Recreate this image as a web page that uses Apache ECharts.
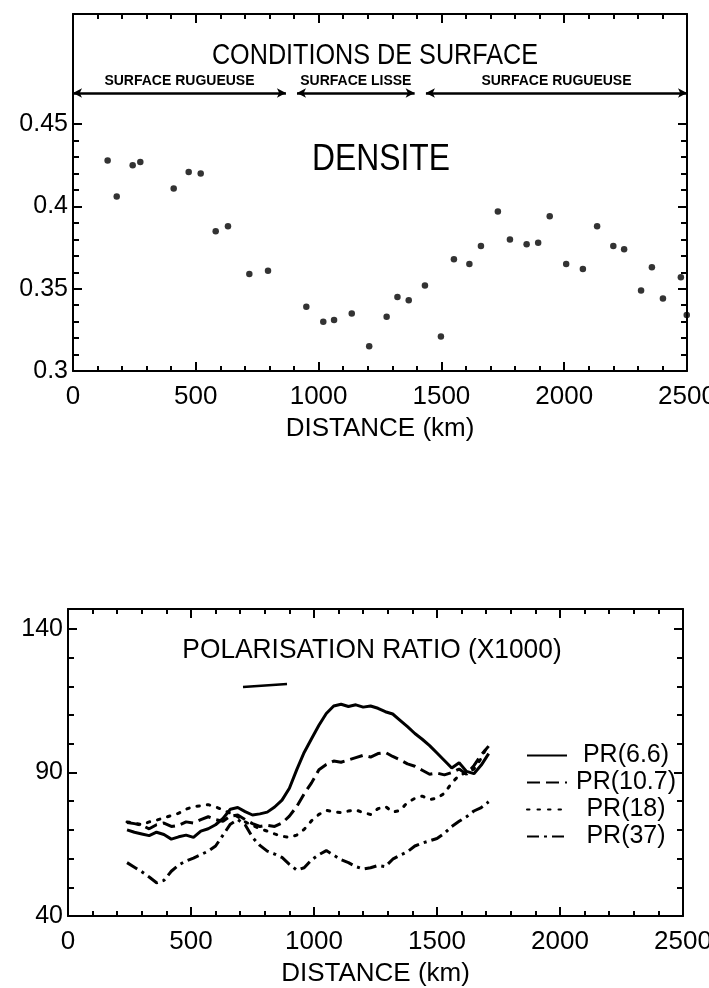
<!DOCTYPE html>
<html>
<head>
<meta charset="utf-8">
<script src="https://cdn.jsdelivr.net/npm/echarts@6/dist/echarts.min.js"></script>
<style>
  html, body { margin: 0; padding: 0; background: #fff; }
  #chart { width: 709px; height: 988px; }
</style>
</head>
<body>
<div id="chart"></div>
<script>
// ---- Density along the track (upper panel) ----
const densityKm = [141, 178, 243, 274, 410, 471, 520, 581, 631, 718, 794, 950, 1019, 1063, 1135,
  1206, 1277, 1321, 1367, 1433, 1498, 1551, 1614, 1661, 1730, 1779, 1847, 1894, 1941, 2008,
  2076, 2134, 2200, 2244, 2313, 2357, 2402, 2475, 2499];
const densityValue = [0.428, 0.406, 0.425, 0.427, 0.411, 0.421, 0.420, 0.385, 0.388, 0.359, 0.361, 0.339, 0.330, 0.331, 0.335,
  0.315, 0.333, 0.345, 0.343, 0.352, 0.321, 0.368, 0.365, 0.376, 0.397, 0.380, 0.377, 0.378, 0.394, 0.365,
  0.362, 0.388, 0.376, 0.374, 0.349, 0.363, 0.344, 0.357, 0.334];

// Surface condition zones (km)
const surfaceZones = [
  { label: 'SURFACE RUGUEUSE', from: 0, to: 867 },
  { label: 'SURFACE LISSE', from: 912, to: 1391 },
  { label: 'SURFACE RUGUEUSE', from: 1437, to: 2500 }
];

// ---- Polarisation ratios (x1000), lower panel ----
const distanceKm = [240, 270, 300, 330, 360, 390, 420, 450, 480, 510, 540, 570, 600, 630, 660, 690, 720, 750,
  780, 810, 840, 870, 900, 930, 960, 990, 1020, 1050, 1080, 1110, 1140, 1170, 1200, 1230, 1260, 1290,
  1320, 1350, 1380, 1410, 1440, 1470, 1500, 1530, 1560, 1590, 1620, 1650, 1680, 1710];
const pr66 = [70.0, 69.2, 68.6, 68.0, 69.2, 68.4, 66.8, 67.6, 68.2, 67.4, 69.6, 70.4, 71.8, 74.0, 77.2, 77.8, 76.4, 75.2,
  75.6, 76.2, 78.0, 80.4, 84.5, 91.0, 97.0, 101.8, 106.5, 110.6, 113.2, 113.8, 113.0, 113.6, 112.8, 113.2, 112.4, 111.2,
  110.4, 108.2, 106.0, 103.6, 101.6, 99.4, 96.8, 94.2, 91.6, 93.4, 90.4, 89.6, 92.6, 96.6];
const pr107 = [72.6, 72.2, 71.6, 70.4, 71.8, 72.4, 71.2, 71.6, 72.8, 72.4, 73.6, 74.6, 73.6, 73.0, 74.8, 75.2, 73.6, 72.2,
  71.2, 71.6, 71.2, 72.4, 74.8, 78.2, 82.6, 86.4, 91.0, 92.8, 94.0, 93.6, 94.4, 95.2, 96.0, 95.4, 96.6, 97.0,
  95.6, 94.4, 93.0, 92.2, 90.8, 89.4, 89.8, 89.2, 90.0, 91.2, 89.4, 92.4, 96.2, 99.2];
const pr18 = [72.8, 72.4, 71.8, 72.8, 73.4, 74.2, 75.0, 75.8, 77.2, 78.2, 78.4, 78.8, 78.0, 77.0, 75.8, 74.6, 72.8, 71.6,
  70.4, 69.6, 68.6, 67.8, 67.4, 68.2, 70.2, 73.2, 75.4, 76.8, 76.4, 76.0, 76.6, 77.0, 76.0, 75.4, 77.4, 78.2,
  76.2, 76.8, 79.6, 81.0, 81.8, 80.6, 81.0, 82.8, 86.4, 89.0, 90.0, 91.2, 95.0, 100.2];
const pr37 = [58.6, 57.0, 55.4, 53.6, 51.6, 52.4, 55.6, 57.8, 59.2, 60.2, 61.4, 62.6, 64.4, 68.2, 72.0, 73.6, 71.8, 67.4,
  64.6, 62.6, 61.6, 60.4, 58.0, 56.0, 56.8, 59.6, 61.4, 62.8, 61.2, 59.6, 58.6, 57.2, 56.4, 56.8, 57.6, 57.2,
  59.8, 61.2, 62.4, 64.4, 65.4, 66.2, 67.0, 68.8, 71.2, 73.0, 74.6, 76.6, 77.8, 79.8];

// Axis tick values
const densityMajorTicks = [0.3, 0.35, 0.4, 0.45];
const densityMinorTicks = [0.31, 0.32, 0.33, 0.34, 0.36, 0.37, 0.38, 0.39, 0.41, 0.42, 0.43, 0.44];
const prMajorTicks = [40, 90, 140];
const prMinorTicks = [50, 60, 70, 80, 100, 110, 120, 130];

const FONT = '"Liberation Sans", Arial, Helvetica, sans-serif';
const INK = '#000';

function pairs(xs, ys) { return xs.map((x, i) => [x, ys[i]]); }

// Distance axis: the labelled one carries ticks every 500 km, the plain one every 100 km
function distanceAxis(gridIndex, position, interval, tickLen, withLabels, showLine) {
  return {
    type: 'value', gridIndex, position, min: 0, max: 2500, interval,
    axisLine: { show: showLine, onZero: false, lineStyle: { color: INK, width: 2 } },
    axisTick: { show: true, inside: true, length: tickLen, lineStyle: { color: INK, width: 2 } },
    splitLine: { show: false },
    axisLabel: { show: withLabels, formatter: (v) => String(v),
                 color: INK, fontFamily: FONT, fontSize: 26, margin: 13 },
    name: withLabels ? 'DISTANCE (km)' : '',
    nameLocation: 'middle', nameGap: 45,
    nameTextStyle: { color: INK, fontFamily: FONT, fontSize: 26 }
  };
}

function valueAxis(gridIndex, position, min, max, ticks, tickLen, withLabels, showLine) {
  return {
    type: 'value', gridIndex, position, min, max,
    axisLine: { show: showLine, onZero: false, lineStyle: { color: INK, width: 2 } },
    axisTick: { show: true, inside: true, length: tickLen, customValues: ticks, lineStyle: { color: INK, width: 2 } },
    splitLine: { show: false },
    axisLabel: { show: withLabels, customValues: ticks, formatter: (v) => String(v),
                 color: INK, fontFamily: FONT, fontSize: 25, margin: 5 }
  };
}

const chart = echarts.init(document.getElementById('chart'), null, { renderer: 'canvas' });

chart.setOption({
  backgroundColor: '#fff',
  animation: false,
  grid: [
    { left: 73, right: 22, top: 14, height: 357, outerBoundsMode: 'none', containLabel: false },
    { left: 68, right: 26, top: 609, height: 307, outerBoundsMode: 'none', containLabel: false }
  ],
  xAxis: [
    distanceAxis(0, 'bottom', 500, 9, true, true),
    distanceAxis(0, 'bottom', 100, 5, false, false),
    distanceAxis(0, 'top', 500, 9, false, true),
    distanceAxis(0, 'top', 100, 5, false, false),
    distanceAxis(1, 'bottom', 500, 9, true, true),
    distanceAxis(1, 'bottom', 100, 5, false, false),
    distanceAxis(1, 'top', 500, 9, false, true),
    distanceAxis(1, 'top', 100, 5, false, false)
  ],
  yAxis: [
    valueAxis(0, 'left', 0.3, 0.517, densityMajorTicks, 9, true, true),
    valueAxis(0, 'left', 0.3, 0.517, densityMinorTicks, 6, false, false),
    valueAxis(0, 'right', 0.3, 0.517, densityMajorTicks, 9, false, true),
    valueAxis(0, 'right', 0.3, 0.517, densityMinorTicks, 6, false, false),
    valueAxis(1, 'left', 40, 147, prMajorTicks, 9, true, true),
    valueAxis(1, 'left', 40, 147, prMinorTicks, 6, false, false),
    valueAxis(1, 'right', 40, 147, prMajorTicks, 9, false, true),
    valueAxis(1, 'right', 40, 147, prMinorTicks, 6, false, false)
  ],
  legend: {
    data: ['PR(6.6)', 'PR(10.7)', 'PR(18)', 'PR(37)'],
    orient: 'vertical', left: 521, top: 738,
    itemWidth: 40, itemHeight: 14, itemGap: 2,
    itemStyle: { opacity: 0 },
    formatter: (name) => '{t|' + name + '}',
    textStyle: {
      color: INK,
      rich: { t: { width: 108, align: 'center', fontFamily: FONT, fontSize: 25, lineHeight: 26, color: INK } }
    }
  },
  graphic: [
    { type: 'text', x: 375, y: 56, scaleX: 0.84,
      style: { text: 'CONDITIONS DE SURFACE', font: '30px ' + FONT, fill: INK, align: 'center', verticalAlign: 'middle' } },
    { type: 'text', x: 381, y: 160, scaleX: 0.86,
      style: { text: 'DENSITE', font: '37px ' + FONT, fill: INK, align: 'center', verticalAlign: 'middle' } },
    { type: 'text', x: 372, y: 650, scaleX: 0.94,
      style: { text: 'POLARISATION RATIO (X1000)', font: '28px ' + FONT, fill: INK, align: 'center', verticalAlign: 'middle' } },
    { type: 'line', shape: { x1: 243, y1: 687, x2: 287, y2: 684 }, style: { stroke: INK, lineWidth: 2.5 } }
  ],
  series: [
    {
      name: 'DENSITE', type: 'scatter', xAxisIndex: 0, yAxisIndex: 0,
      symbol: 'circle', symbolSize: 6.5, clip: false,
      itemStyle: { color: INK },
      data: pairs(densityKm, densityValue),
      markLine: {
        silent: true, animation: false,
        symbol: ['arrow', 'arrow'], symbolSize: [7, 9],
        lineStyle: { color: INK, width: 2.5, type: 'solid' },
        label: { show: true, position: 'insideMiddleTop', distance: 5, color: INK,
                 fontFamily: FONT, fontSize: 14, fontWeight: 'bold', formatter: (p) => p.name },
        data: surfaceZones.map(z => [
          { name: z.label, coord: [z.from, 0.469] },
          { coord: [z.to, 0.469] }
        ])
      }
    },
    {
      name: 'PR(6.6)', type: 'line', xAxisIndex: 4, yAxisIndex: 4, symbol: 'none',
      itemStyle: { color: INK },
      lineStyle: { color: INK, width: 3, type: 'solid' },
      data: pairs(distanceKm, pr66)
    },
    {
      name: 'PR(10.7)', type: 'line', xAxisIndex: 4, yAxisIndex: 4, symbol: 'none',
      itemStyle: { color: INK },
      lineStyle: { color: INK, width: 3, type: [13, 6] },
      data: pairs(distanceKm, pr107)
    },
    {
      name: 'PR(18)', type: 'line', xAxisIndex: 4, yAxisIndex: 4, symbol: 'none',
      itemStyle: { color: INK },
      lineStyle: { color: INK, width: 3, type: [2.5, 8], cap: 'round' },
      data: pairs(distanceKm, pr18)
    },
    {
      name: 'PR(37)', type: 'line', xAxisIndex: 4, yAxisIndex: 4, symbol: 'none',
      itemStyle: { color: INK },
      lineStyle: { color: INK, width: 3, type: [12, 5, 3, 5] },
      data: pairs(distanceKm, pr37)
    }
  ]
});
</script>
</body>
</html>
